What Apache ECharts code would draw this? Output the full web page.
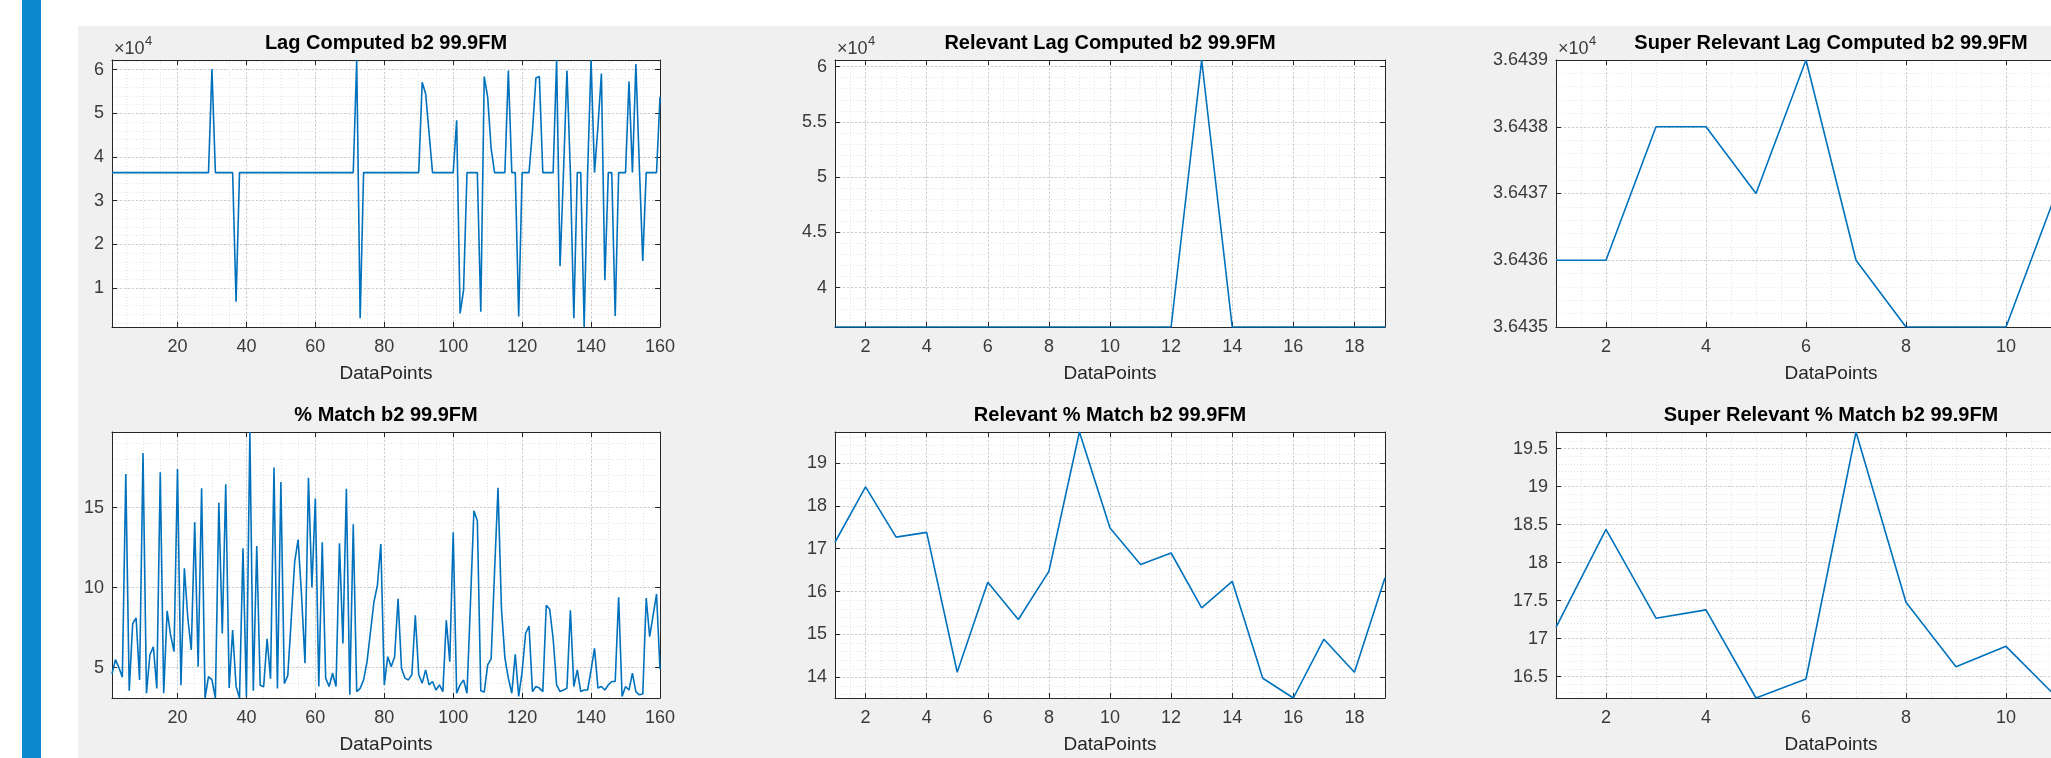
<!DOCTYPE html>
<html><head><meta charset="utf-8">
<script src="https://cdn.jsdelivr.net/npm/echarts@6/dist/echarts.min.js"></script>
<style>
html,body{margin:0;padding:0;background:#fff;width:2051px;height:758px;overflow:hidden;position:relative;}
#figbg{position:absolute;left:78px;top:26px;width:2200px;height:732px;background:#f0f0f0;}
#bar{position:absolute;left:22px;top:0;width:19px;height:758px;background:#0c88cf;}
#c{position:absolute;left:0;top:0;width:2200px;height:758px;}
</style>
</head><body>
<div id="figbg"></div><div id="bar"></div><div id="c"></div>
<script>
// ---------------- data ----------------
const titles = [
  'Lag Computed b2 99.9FM', 'Relevant Lag Computed b2 99.9FM', 'Super Relevant Lag Computed b2 99.9FM',
  '% Match b2 99.9FM', 'Relevant % Match b2 99.9FM', 'Super Relevant % Match b2 99.9FM'
];
const xLabel = 'DataPoints';
const expLabel = ['\u00d710', '4'];

const lagComputed = [
  36436,36436,36436,36436,36436,36436,36436,36436,36436,36436,
  36436,36436,36436,36436,36436,36436,36436,36436,36436,36436,
  36436,36436,36436,36436,36436,36436,36436,36436,36436,60160,
  36436,36436,36436,36436,36436,36436,6900,36436,36436,36436,
  36436,36436,36436,36436,36436,36436,36436,36436,36436,36436,
  36436,36436,36436,36436,36436,36436,36436,36436,36436,36436,
  36436,36436,36436,36436,36436,36436,36436,36436,36436,36436,
  36436,62200,3100,36436,36436,36436,36436,36436,36436,36436,
  36436,36436,36436,36436,36436,36436,36436,36436,36436,36436,
  57100,54500,45500,36436,36436,36436,36436,36436,36436,36436,
  48400,4200,9500,36436,36436,36436,36436,4600,58400,53700,
  42000,36436,36436,36436,36436,59800,36436,36436,3500,36436,
  36436,36436,46000,58100,58400,36436,36436,36436,36436,62200,
  15000,36436,59800,36436,3100,36436,36436,1100,36436,62200,
  36436,47000,59100,11800,36436,36436,3600,36436,36436,36436,
  57300,36436,61300,38000,16200,36436,36436,36436,36436,53800
];
const relevantLag = [36436,36436,36438,36438,36437,36437,36436,36439,36436,36435,
  36435,36435,60600,36437,36436,36436,36436,36437,36436];
const superRelevantLag = [36436,36436,36438,36438,36437,36439,36436,36435,36435,36435,36437,36436];

const matchPct = [
  4.6,5.5,5.0,4.4,17.1,3.55,7.75,8.1,4.23,18.4,
  3.4,5.8,6.3,3.7,17.2,3.4,8.54,7.03,6.0,17.4,
  3.9,11.2,8.1,6.1,14.1,5.06,16.2,3.1,4.44,4.23,
  3.1,15.3,7.13,16.45,3.72,7.34,3.82,3.1,12.45,3.2,
  19.72,3.55,12.6,3.9,3.8,6.8,4.3,17.5,3.7,16.6,
  4.0,4.5,8.0,11.6,13.0,9.5,5.27,16.86,10.0,15.56,
  3.82,12.83,4.34,3.82,4.65,3.82,12.76,6.5,16.18,3.3,
  13.96,3.5,3.7,4.23,5.37,7.24,9.1,10.13,12.72,3.92,
  5.68,5.06,5.68,9.3,4.96,4.34,4.23,4.55,8.27,4.55,
  4.03,4.86,3.92,4.13,3.6,3.92,3.5,7.96,5.37,13.45,
  3.4,3.92,4.23,3.4,9.0,14.8,14.17,3.55,3.47,5.17,
  5.54,11.0,16.24,8.7,5.6,4.34,3.4,5.83,3.2,4.75,
  7.13,7.6,3.5,3.82,3.72,3.5,8.9,8.64,6.8,3.92,
  3.5,3.6,3.72,8.58,3.82,4.86,3.5,3.6,3.6,4.86,
  6.2,3.72,3.82,3.6,3.92,4.13,4.13,9.4,3.2,3.82,
  3.6,4.65,3.5,3.3,3.35,9.35,6.93,8.27,9.6,4.9
];
const relevantMatch = [17.15,18.44,17.27,17.38,14.12,16.22,15.35,16.47,19.72,17.48,
  16.63,16.90,15.62,16.24,13.98,13.52,14.89,14.12,16.32];
const superRelevantMatch = [17.15,18.44,17.27,17.38,16.22,16.47,19.72,17.48,16.63,16.90,16.24,16.32];

// tick steps (major / minor) per panel
const xSteps = [[20,5],[2,0.5],[2,0.5],[20,5],[2,0.5],[2,0.5]];
const ySteps = [[10000,2000],[5000,1000],[1,0.2],[5,1],[1,0.2],[0.5,0.1]];
const series = [lagComputed, relevantLag, superRelevantLag, matchPct, relevantMatch, superRelevantMatch];
const scaled = [true, true, true, false, false, false];

// ---------------- layout ----------------
const FONT = '"Liberation Sans", Arial, Helvetica, sans-serif';
const cols = [{left:112,width:548},{left:835,width:550},{left:1556,width:550}];
const rows = [{top:60,height:267,titleY:43},{top:432,height:266,titleY:415}];
const LINE = '#0072BD', AX = '#262626', TXT = '#3a3a3a';

function isMult(v, s){ const q = v / s; return Math.abs(q - Math.round(q)) < 1e-6; }

const grids = [], xAxes = [], yAxes = [], seriesOpt = [], graphics = [];

series.forEach((arr, gi) => {
  const col = cols[gi % 3], row = rows[Math.floor(gi / 3)];
  grids.push({left: col.left, top: row.top, width: col.width, height: row.height,
    show: true, backgroundColor: '#ffffff', borderWidth: 0, containLabel: false});
  const yMin = Math.min(...arr), yMax = Math.max(...arr);
  const xMin = 1, xMax = arr.length;
  const yfmt = v => scaled[gi] ? String(+(v / 1e4).toFixed(4)) : String(+v.toFixed(4));

  const mk = (isX) => {
    const [step, minor] = isX ? xSteps[gi] : ySteps[gi];
    const min = isX ? xMin : yMin, max = isX ? xMax : yMax;
    const base = {gridIndex: gi, type: 'value', min, max};
    const minorAx = Object.assign({}, base, {
      position: isX ? 'top' : 'right', minInterval: minor, maxInterval: minor,
      axisLine: {show: false}, axisTick: {show: false}, axisLabel: {show: false},
      splitLine: {show: true, lineStyle: {color: '#e3e3e3', width: 1, type: [1, 2]}}
    });
    const main = Object.assign({}, base, {
      position: isX ? 'bottom' : 'left', minInterval: step, maxInterval: step,
      axisLine: {show: true, onZero: false, lineStyle: {color: AX, width: 1}},
      axisTick: {show: true, inside: true, length: 5, lineStyle: {color: AX, width: 1}},
      axisLabel: {show: true, margin: isX ? 11 : 8, color: TXT, fontSize: 18, fontFamily: FONT,
        formatter: v => isMult(v, step) ? (isX ? String(v) : yfmt(v)) : ''},
      splitLine: {show: true, lineStyle: {color: '#cdcdcd', width: 1, type: [2, 2]}},
      name: isX ? xLabel : '', nameLocation: 'middle', nameGap: 37,
      nameTextStyle: {fontSize: 19, color: AX, fontFamily: FONT}
    });
    const opp = Object.assign({}, base, {
      position: isX ? 'top' : 'right', minInterval: step, maxInterval: step,
      axisLine: {show: true, onZero: false, lineStyle: {color: AX, width: 1}},
      axisTick: {show: true, inside: true, length: 5, lineStyle: {color: AX, width: 1}},
      axisLabel: {show: false}, splitLine: {show: false}
    });
    return [minorAx, main, opp];
  };
  xAxes.push(...mk(true));
  yAxes.push(...mk(false));

  seriesOpt.push({type: 'line', xAxisIndex: 3 * gi + 1, yAxisIndex: 3 * gi + 1,
    data: arr.map((v, k) => [k + 1, v]), showSymbol: false, symbol: 'none',
    lineStyle: {color: LINE, width: 1.6}, clip: true, animation: false, z: 5});

  graphics.push({type: 'text', x: col.left + col.width / 2, y: row.titleY, z: 10,
    style: {text: titles[gi], fill: '#000', font: 'bold 20px ' + FONT, align: 'center', verticalAlign: 'middle'}});
  if (scaled[gi]) {
    graphics.push({type: 'text', x: col.left + 2, y: 49, z: 10,
      style: {text: expLabel[0], fill: TXT, font: '18px ' + FONT, align: 'left', verticalAlign: 'middle'}});
    graphics.push({type: 'text', x: col.left + 33, y: 41, z: 10,
      style: {text: expLabel[1], fill: TXT, font: '13px ' + FONT, align: 'left', verticalAlign: 'middle'}});
  }
});

const chart = echarts.init(document.getElementById('c'), null, {renderer: 'canvas', width: 2200, height: 758});
chart.setOption({
  backgroundColor: 'transparent',
  animation: false,
  grid: grids, xAxis: xAxes, yAxis: yAxes, series: seriesOpt, graphic: graphics
});
</script>
</body></html>
